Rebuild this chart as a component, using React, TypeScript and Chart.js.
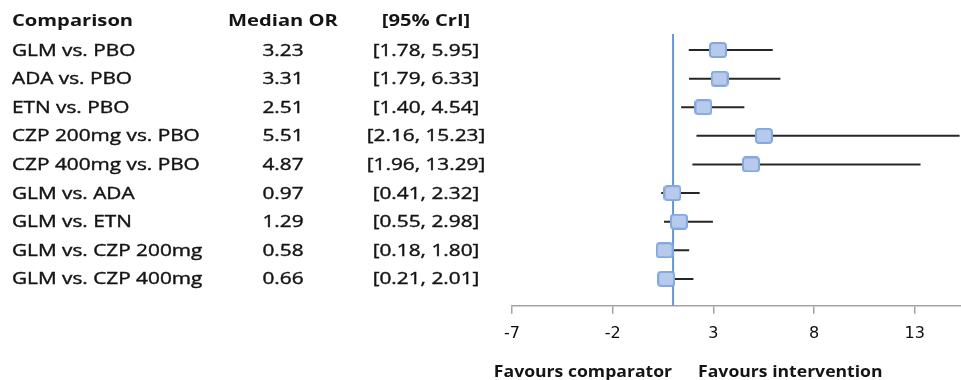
import React, { useEffect, useRef } from "react";
import { Chart, registerables } from "chart.js";

Chart.register(...registerables);

// Comparisons (top to bottom) with median odds ratio and 95% credible interval
const comparisons = [
  "GLM vs. PBO",
  "ADA vs. PBO",
  "ETN vs. PBO",
  "CZP 200mg vs. PBO",
  "CZP 400mg vs. PBO",
  "GLM vs. ADA",
  "GLM vs. ETN",
  "GLM vs. CZP 200mg",
  "GLM vs. CZP 400mg",
];
const medianOR = [3.23, 3.31, 2.51, 5.51, 4.87, 0.97, 1.29, 0.58, 0.66];
const crLow = [1.78, 1.79, 1.4, 2.16, 1.96, 0.41, 0.55, 0.18, 0.21];
const crHigh = [5.95, 6.33, 4.54, 15.23, 13.29, 2.32, 2.98, 1.8, 2.01];

const xTicks = [-7, -2, 3, 8, 13];
const nullValue = 1;

const headers = ["Comparison", "Median OR", "[95% CrI]"];
const favourLeft = "Favours comparator";
const favourRight = "Favours intervention";

const TEXT = "#141414";
const TEXT_FONT = "'Open Sans', 'DejaVu Sans', sans-serif";
const WIDTH = 961;
const HEIGHT = 380;

function makeMarker(): HTMLCanvasElement {
  const c = document.createElement("canvas");
  c.width = 18;
  c.height = 16;
  const ctx = c.getContext("2d")!;
  const r = 3;
  const x = 1, y = 1, w = 16, h = 14;
  ctx.beginPath();
  ctx.moveTo(x + r, y);
  ctx.arcTo(x + w, y, x + w, y + h, r);
  ctx.arcTo(x + w, y + h, x, y + h, r);
  ctx.arcTo(x, y + h, x, y, r);
  ctx.arcTo(x, y, x + w, y, r);
  ctx.closePath();
  ctx.fillStyle = "#b6caec";
  ctx.fill();
  ctx.lineWidth = 2;
  ctx.strokeStyle = "#84a8de";
  ctx.stroke();
  return c;
}

function stretchedText(
  ctx: CanvasRenderingContext2D,
  text: string,
  x: number,
  y: number,
  align: CanvasTextAlign,
  font: string,
  stretch: number,
  weight = 0
) {
  ctx.save();
  ctx.translate(x, y);
  ctx.scale(stretch, 1);
  ctx.font = font;
  ctx.textAlign = align;
  ctx.textBaseline = "alphabetic";
  ctx.fillStyle = TEXT;
  ctx.fillText(text, 0, 0);
  if (weight > 0) {
    ctx.strokeStyle = TEXT;
    ctx.lineWidth = weight;
    ctx.strokeText(text, 0, 0);
  }
  ctx.restore();
}

const tablePlugin = {
  id: "forestTable",
  afterDraw(chart: any) {
    const { ctx, scales } = chart;
    const y = scales.y;
    const x = scales.x;
    const col1 = 12;
    const col2 = 283;
    const col3 = 426;
    const bold = `bold 16px ${TEXT_FONT}`;
    const regular = `16.5px ${TEXT_FONT}`;
    const s = 1.26;

    const hy = y.getPixelForValue(-1) + 5;
    stretchedText(ctx, headers[0], col1, hy, "left", bold, s);
    stretchedText(ctx, headers[1], col2, hy, "center", bold, s);
    stretchedText(ctx, headers[2], col3, hy, "center", bold, s);

    comparisons.forEach((name, i) => {
      const ry = y.getPixelForValue(i) + 5.5;
      stretchedText(ctx, name, col1, ry, "left", regular, s, 0.4);
      stretchedText(ctx, medianOR[i].toFixed(2), col2, ry, "center", regular, s, 0.4);
      stretchedText(
        ctx,
        `[${crLow[i].toFixed(2)}, ${crHigh[i].toFixed(2)}]`,
        col3,
        ry,
        "center",
        regular,
        s,
        0.4
      );
    });

    const nx = x.getPixelForValue(nullValue);
    const fy = 377;
    stretchedText(ctx, favourLeft, nx - 1, fy, "right", bold, 1.1);
    stretchedText(ctx, favourRight, nx + 25, fy, "left", bold, 1.1);
  },
};

export default function App() {
  const canvasRef = useRef<HTMLCanvasElement | null>(null);

  useEffect(() => {
    if (!canvasRef.current) return;
    const marker = makeMarker();
    const rows = comparisons.map((_, i) => i);

    const intervalSets = rows.map((i) => ({
      type: "line" as const,
      data: [
        { x: crLow[i], y: i },
        { x: crHigh[i], y: i },
      ],
      borderColor: "#262626",
      borderWidth: 2,
      pointRadius: 0,
      order: 2,
    }));

    const chart = new Chart(canvasRef.current, {
      type: "scatter",
      data: {
        datasets: [
          {
            type: "line",
            data: [
              { x: nullValue, y: -0.56 },
              { x: nullValue, y: 8.94 },
            ],
            borderColor: "#6494d8",
            borderWidth: 2,
            pointRadius: 0,
            order: 3,
          } as any,
          ...intervalSets,
          {
            type: "scatter",
            data: rows.map((i) => ({ x: medianOR[i], y: i })),
            pointStyle: marker,
            pointRadius: 8,
            order: 1,
          } as any,
        ],
      },
      options: {
        animation: false,
        responsive: false,
        devicePixelRatio: 1,
        layout: {
          autoPadding: false,
          padding: { left: 512, right: 0, top: 34, bottom: 27 },
        },
        plugins: {
          legend: { display: false },
          tooltip: { enabled: false },
        },
        scales: {
          x: {
            type: "linear",
            min: -7,
            max: 15.3,
            afterBuildTicks: (scale: any) => {
              scale.ticks = xTicks.map((v) => ({ value: v }));
            },
            afterFit: (scale: any) => {
              // the end labels sit well inside the plot, so no label overhang is needed
              scale.paddingLeft = 0;
              scale.paddingRight = 0;
            },
            grid: {
              display: true,
              drawOnChartArea: false,
              drawTicks: true,
              tickLength: 8,
              color: "#a3a3a3",
              lineWidth: 1.5,
            },
            border: { display: true, color: "#a3a3a3", width: 1.5 },
            ticks: {
              autoSkip: false,
              maxRotation: 0,
              padding: 10,
              color: "#0d0d0d",
              font: { family: "'DejaVu Sans', sans-serif", size: 16 },
            },
          },
          y: {
            type: "linear",
            reverse: true,
            min: -0.56,
            max: 8.94,
            display: false,
          },
        },
      },
      plugins: [tablePlugin],
    });

    return () => chart.destroy();
  }, []);

  return (
    <div
      style={{
        position: "absolute",
        left: 0,
        top: 0,
        width: WIDTH,
        height: HEIGHT,
        overflow: "hidden",
        background: "#ffffff",
      }}
    >
      <canvas
        ref={canvasRef}
        width={WIDTH}
        height={HEIGHT}
        style={{ display: "block", width: WIDTH, height: HEIGHT }}
      />
    </div>
  );
}
